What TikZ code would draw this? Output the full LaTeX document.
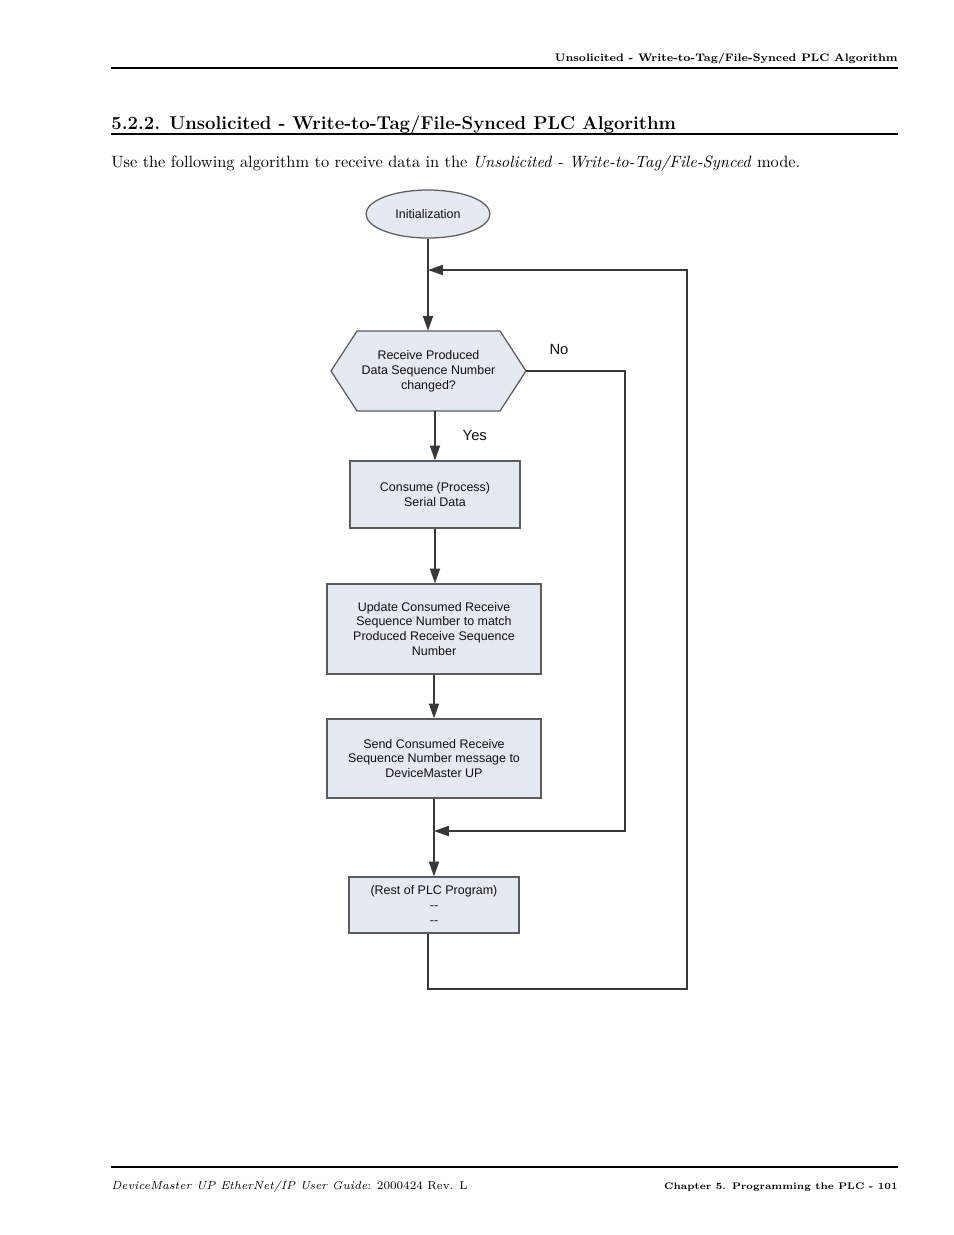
\documentclass[tikz,border=0pt]{standalone}
\usepackage{fontspec}
\newfontfamily\chartfont{Liberation Sans}
\usetikzlibrary{arrows.meta,shapes.geometric,calc}
\definecolor{Ink}{HTML}{111111}
\definecolor{Wire}{HTML}{383838}
\definecolor{Edge}{HTML}{5C5C5C}
\definecolor{StepFill}{HTML}{E4E9F2}
\tikzset{
  chart/.style={font=\chartfont\fontsize{8}{9.6}\selectfont,text=Ink},
  term/.style={chart,ellipse,draw=Edge,fill=StepFill,line width=.8pt,minimum width=124*0.6415pt,minimum height=48*0.6415pt,inner sep=0pt},
  stepbox/.style={chart,draw=Edge,fill=StepFill,line width=.8pt,align=center,inner sep=0pt},
  hexline/.style={draw=Edge,fill=StepFill,line width=.8pt},
  flow/.style={-{Triangle[length=9.5pt,width=6.5pt]},draw=Wire,line width=.9pt},
  answer/.style={font=\chartfont\fontsize{9.5}{11}\selectfont,text=Ink},
  pagerule/.style={draw=black,line width=.9pt}
}
\begin{document}
\begin{tikzpicture}[x=0.6415pt,y=-0.6415pt]
  \useasboundingbox (0,0) rectangle (954,1235);
  % page frame
  \node[anchor=base east,inner sep=0pt,font=\fontsize{7}{8}\selectfont\bfseries] (runhead) at (898,61) {Unsolicited - Write-to-Tag/File-Synced PLC Algorithm};
  \draw[pagerule] (111,68) -- (898,68);
  \node[anchor=base west,inner sep=0pt,font=\fontsize{11.9}{14}\selectfont\bfseries] (title) at (111,129) {5.2.2. Unsolicited - Write-to-Tag/File-Synced PLC Algorithm};
  \draw[pagerule] (111,134) -- (898,134);
  \node[anchor=base west,inner sep=0pt,font=\fontsize{10.5}{12}\selectfont] (intro) at (111,167) {Use the following algorithm to receive data in the \textit{Unsolicited - Write-to-Tag/File-Synced} mode.};
  \draw[pagerule] (111,1167) -- (898,1167);
  \node[anchor=base west,inner sep=0pt,font=\fontsize{7.4}{9}\selectfont] (footl) at (111,1189) {\textit{DeviceMaster UP EtherNet/IP User Guide}: 2000424 Rev. L};
  \node[anchor=base east,inner sep=0pt,font=\fontsize{6.1}{7}\selectfont\bfseries] (footr) at (898,1189) {Chapter 5. Programming the PLC - 101};

  % flowchart
  \node[term] (init) at (428,214) {Initialization};
  \draw[hexline] (331,371) -- (357,331) -- (500,331) -- (526,371) -- (500,411) -- (357,411) -- cycle;
  \node[chart,align=center,minimum width=195*0.6415pt,minimum height=80*0.6415pt,inner sep=0pt] (check) at (428.5,371) {Receive Produced\\Data Sequence Number\\changed?};
  \node[stepbox,minimum width=170*0.6415pt,minimum height=67*0.6415pt] (consume) at (435,494.5) {Consume (Process)\\Serial Data};
  \node[stepbox,minimum width=214*0.6415pt,minimum height=90*0.6415pt] (update) at (434,629) {Update Consumed Receive\\Sequence Number to match\\Produced Receive Sequence\\Number};
  \node[stepbox,minimum width=214*0.6415pt,minimum height=79*0.6415pt] (send) at (434,758.5) {Send Consumed Receive\\Sequence Number message to\\DeviceMaster UP};
  \node[stepbox,minimum width=170*0.6415pt,minimum height=56*0.6415pt] (rest) at (434,905) {(Rest of PLC Program)\\-{}-\\-{}-};
  \coordinate (join) at (428,270);
  \coordinate (merge) at (434,831);
  \coordinate (nocorner) at (625,831);
  \coordinate (loopcorner) at (687,989);

  \draw[flow] (init.south) -- (check.north -| init.south);
  \draw[flow] (check.south -| consume.north) -- node[answer,right=14pt,pos=.5] (yes) {Yes} (consume.north);
  \draw[flow] (consume.south) -- (update.north -| consume.south);
  \draw[flow] (update.south) -- (send.north);
  \draw[flow] (send.south) -- (rest.north);
  \draw[flow] (check.east) -| (nocorner) -- (merge);
  \draw[flow] (rest.south -| init.south) |- (loopcorner) |- (join);
  \node[answer] (no) at (559,349) {No};
\end{tikzpicture}
\end{document}
